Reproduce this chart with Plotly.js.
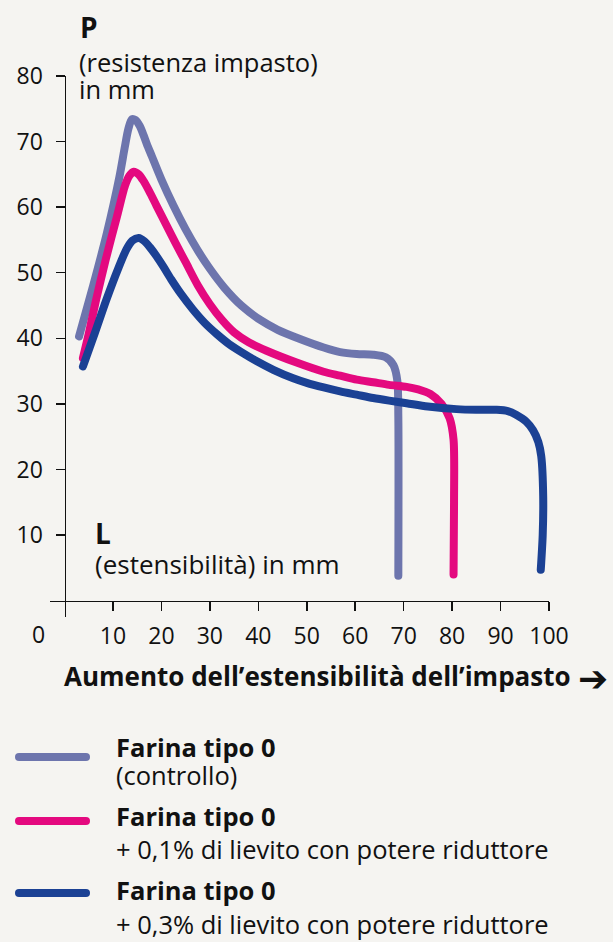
<!DOCTYPE html>
<html>
<head>
<meta charset="utf-8">
<script src="https://cdn.plot.ly/plotly-3.0.1.min.js"></script>
<style>
html, body { margin: 0; padding: 0; background: #f5f4f1; }
#chart { width: 613px; height: 942px; }
.js-line { stroke-linecap: round !important; stroke-linejoin: round !important; }
.shapelayer path { stroke-linecap: round !important; }
</style>
</head>
<body>
<div id="chart"></div>
<script>
// ---- Data ----
const seriesNames = ["Farina tipo 0 (controllo)", "Farina tipo 0 + 0,1% di lievito con potere riduttore", "Farina tipo 0 + 0,3% di lievito con potere riduttore"];

const controlX = [3.0, 5.9, 8.7, 11.3, 12.4, 13.2, 13.9, 14.6, 15.5, 16.3, 17.0, 18.0, 20.0, 22.5, 25.0, 27.5, 30.0, 33.0, 36.5, 40.4, 44.0, 48.6, 53.5, 56.9, 60.3, 63.7, 66.3, 67.9, 68.7, 68.9, 68.9];
const controlY = [40.3, 48.0, 55.9, 64.5, 69.0, 72.0, 73.4, 73.3, 72.4, 71.0, 69.6, 67.8, 64.2, 60.2, 56.6, 53.4, 50.6, 47.7, 45.0, 42.8, 41.3, 39.9, 38.6, 37.9, 37.6, 37.5, 37.1, 35.9, 33.5, 28.0, 3.8];

const lievito01X = [3.8, 5.0, 6.5, 8.5, 10.8, 12.5, 13.4, 14.3, 15.3, 16.3, 17.5, 19.0, 21.0, 23.0, 25.0, 27.5, 30.0, 32.5, 35.0, 38.0, 41.7, 47.9, 53.5, 56.9, 60.3, 63.7, 67.0, 70.6, 73.0, 75.5, 77.8, 79.5, 80.3, 80.4, 80.3];
const lievito01Y = [37.0, 40.7, 45.8, 52.0, 58.5, 63.3, 64.8, 65.4, 65.0, 64.0, 62.4, 60.2, 57.3, 54.4, 51.6, 48.1, 45.2, 42.8, 40.9, 39.4, 38.1, 36.3, 34.9, 34.3, 33.7, 33.3, 32.9, 32.6, 32.2, 31.5, 30.0, 27.8, 24.5, 15.0, 4.0];

const lievito03X = [3.8, 6.3, 8.7, 11.0, 12.8, 14.0, 15.3, 16.5, 17.6, 19.0, 20.5, 22.0, 24.0, 26.5, 29.0, 31.5, 34.0, 36.5, 39.7, 43.1, 47.2, 50.0, 53.5, 56.9, 60.3, 63.7, 67.0, 70.6, 75.0, 80.9, 85.0, 89.2, 91.5, 93.3, 95.3, 96.7, 97.8, 98.4, 98.8, 98.7, 98.3];
const lievito03Y = [35.7, 40.9, 46.0, 50.5, 53.6, 54.9, 55.3, 54.8, 53.9, 52.5, 50.8, 49.0, 46.8, 44.4, 42.3, 40.6, 39.1, 37.9, 36.5, 35.2, 33.9, 33.2, 32.5, 31.9, 31.4, 30.9, 30.5, 30.1, 29.6, 29.2, 29.1, 29.1, 28.9, 28.3, 27.3, 26.0, 24.2, 22.0, 15.9, 10.0, 4.7];

const xTickVals = [10, 20, 30, 40, 50, 60, 70, 80, 90, 100];
const xTickText = ["10", "20", "30", "40", "50", "60", "70", "80", "90", "100"];
const yTickVals = [10, 20, 30, 40, 50, 60, 70, 80];
const yTickText = ["10", "20", "30", "40", "50", "60", "70", "80"];

const legendBold = ["Farina tipo 0", "Farina tipo 0", "Farina tipo 0"];
const legendSub = ["(controllo)", "+ 0,1% di lievito con potere riduttore", "+ 0,3% di lievito con potere riduttore"];

// ---- Styling ----
const colors = ["#6d75ad", "#e4097f", "#1b4194"];
const FONT = "Open Sans, Noto Sans, DejaVu Sans, sans-serif";
const INK = "#111111";
const BG = "#f5f4f1";

const W = 613, H = 942;
const mL = 50, mR = 64, mT = 76, mB = 325;
const plotW = W - mL - mR, plotH = H - mT - mB;
const pxX = x => (x - mL) / plotW;
const pxY = y => (H - mB - y) / plotH;

const xs = [controlX, lievito01X, lievito03X];
const ys = [controlY, lievito01Y, lievito03Y];

const traces = xs.map((x, i) => ({
  type: "scatter",
  mode: "lines",
  x: x,
  y: ys[i],
  name: seriesNames[i],
  line: { color: colors[i], width: 8, shape: "spline", smoothing: 0.8 },
  hoverinfo: "skip",
  showlegend: false
}));

const annotations = [
  { text: "<b>P</b>", x: pxX(78), y: pxY(27), size: 28 },
  { text: "(resistenza impasto)", x: pxX(77), y: pxY(62), size: 25.5 },
  { text: "in mm", x: pxX(77), y: pxY(89), size: 25.5 },
  { text: "<b>L</b>", x: pxX(93), y: pxY(533), size: 28 },
  { text: "(estensibilità) in mm", x: pxX(93), y: pxY(564), size: 26 },
  { text: "0", x: pxX(30), y: pxY(634), size: 23 },
  { text: "<b>Aumento dell’estensibilità dell’impasto</b>", x: pxX(62), y: pxY(676), size: 26 },
  { text: "<b>➔</b>", x: pxX(576), y: pxY(678), size: 36, family: "DejaVu Sans, sans-serif" }
].map(a => ({
  text: a.text, x: a.x, y: a.y, xref: "paper", yref: "paper",
  xanchor: "left", yanchor: "middle", showarrow: false,
  font: { family: a.family || FONT, size: a.size, color: INK }
}));

const legendRows = [
  { line: 757, bold: 747, sub: 775 },
  { line: 821, bold: 816, sub: 849 },
  { line: 893, bold: 890, sub: 924 }
];
const shapes = [];
legendRows.forEach((r, i) => {
  shapes.push({
    type: "line", xref: "paper", yref: "paper",
    x0: pxX(19), x1: pxX(86), y0: pxY(r.line), y1: pxY(r.line),
    line: { color: colors[i], width: 8 }
  });
  annotations.push({
    text: "<b>" + legendBold[i] + "</b>", x: pxX(114), y: pxY(r.bold), xref: "paper", yref: "paper",
    xanchor: "left", yanchor: "middle", showarrow: false,
    font: { family: FONT, size: 25.5, color: INK }
  });
  annotations.push({
    text: legendSub[i], x: pxX(114), y: pxY(r.sub), xref: "paper", yref: "paper",
    xanchor: "left", yanchor: "middle", showarrow: false,
    font: { family: FONT, size: 25.5, color: INK }
  });
});

const layout = {
  width: W, height: H,
  margin: { l: mL, r: mR, t: mT, b: mB, pad: 0 },
  paper_bgcolor: BG, plot_bgcolor: BG,
  showlegend: false,
  font: { family: FONT, size: 20, color: INK },
  xaxis: {
    range: [-3, 100], anchor: "free", position: 2.5 / 82.5,
    showgrid: false, zeroline: false, showline: true, linecolor: INK, linewidth: 1.5,
    ticks: "outside", ticklen: 9, tickwidth: 1.5, tickcolor: INK,
    ticklabelstandoff: 5,
    tickmode: "array", tickvals: xTickVals, ticktext: xTickText,
    tickfont: { family: FONT, size: 23, color: INK }, fixedrange: true
  },
  yaxis: {
    range: [-2.5, 80], anchor: "free", position: 3 / 103,
    showgrid: false, zeroline: false, showline: true, linecolor: INK, linewidth: 1.5,
    ticks: "outside", ticklen: 9, tickwidth: 1.5, tickcolor: INK,
    ticklabelstandoff: 8,
    tickmode: "array", tickvals: yTickVals, ticktext: yTickText,
    tickfont: { family: FONT, size: 23, color: INK }, fixedrange: true
  },
  annotations: annotations,
  shapes: shapes
};

Plotly.newPlot("chart", traces, layout, { displayModeBar: false, staticPlot: true });
</script>
</body>
</html>
